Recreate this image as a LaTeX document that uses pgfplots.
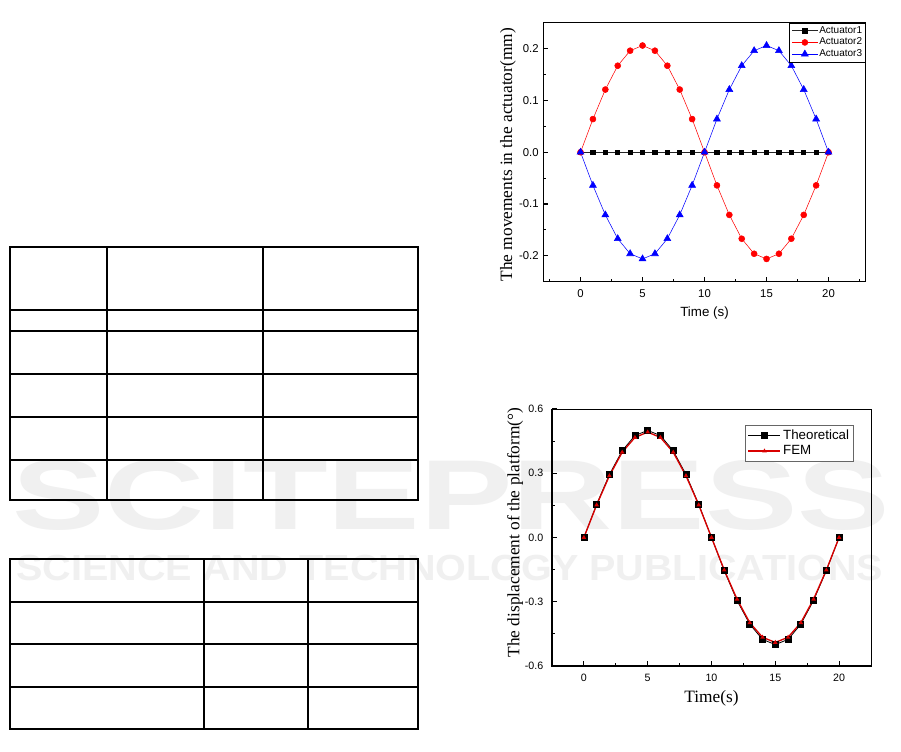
\documentclass[border=0pt]{standalone}
\usepackage{fontspec}
\setmainfont{Liberation Sans}
\newfontfamily\serif{Liberation Serif}
\usepackage{pgfplots}
\usepackage{pgfplotstable}
\pgfplotsset{compat=1.18}

\definecolor{oRed}{RGB}{255,0,0}
\definecolor{oBlue}{RGB}{0,0,255}
\definecolor{wm}{RGB}{240,240,240}

% actuator movements (mm)
\pgfplotstableread{
t   a1  a2      a3
0   0   0       0
1   0   0.064   -0.064
2   0   0.121   -0.121
3   0   0.167   -0.167
4   0   0.196   -0.196
5   0   0.206   -0.206
6   0   0.196   -0.196
7   0   0.167   -0.167
8   0   0.121   -0.121
9   0   0.064   -0.064
10  0   0       0
11  0   -0.064  0.064
12  0   -0.121  0.121
13  0   -0.167  0.167
14  0   -0.196  0.196
15  0   -0.206  0.206
16  0   -0.196  0.196
17  0   -0.167  0.167
18  0   -0.121  0.121
19  0   -0.064  0.064
20  0   0       0
}\actuators

% platform displacement (deg)
\pgfplotstableread{
t   theo    fem
0   0       0
1   0.155   0.152
2   0.294   0.288
3   0.405   0.398
4   0.476   0.467
5   0.500   0.492
6   0.476   0.467
7   0.405   0.398
8   0.294   0.288
9   0.155   0.152
10  0       0
11  -0.155  -0.152
12  -0.294  -0.288
13  -0.405  -0.398
14  -0.476  -0.466
15  -0.500  -0.490
16  -0.476  -0.466
17  -0.405  -0.398
18  -0.294  -0.288
19  -0.155  -0.152
20  0       0
}\platform

\begin{document}
\begin{tikzpicture}
\useasboundingbox (0,0) rectangle (675.75pt,564pt);
\fill[white] (0,0) rectangle (675.75pt,564pt);

\begin{scope}[yshift=564pt,x=0.75pt,y=-0.75pt]
  % watermark
  \node[anchor=north west,inner sep=0pt,text=wm] at (12,460)
    {\resizebox{658pt}{52pt}{\bfseries SCITEPRESS}};
  \node[anchor=north west,inner sep=0pt,text=wm] at (16,555)
    {\resizebox{650pt}{19pt}{\bfseries SCIENCE AND TECHNOLOGY PUBLICATIONS}};
  % table 1
  \draw[line width=1pt] (10,247) rectangle (418,500);
  \foreach \yy in {310,331,374,417,460} \draw[line width=1pt] (10,\yy) -- (418,\yy);
  \foreach \xx in {107,263} \draw[line width=1pt] (\xx,247) -- (\xx,500);
  % table 2
  \draw[line width=1pt] (10,559) rectangle (418,729);
  \foreach \yy in {602,644,687} \draw[line width=1pt] (10,\yy) -- (418,\yy);
  \foreach \xx in {204,308} \draw[line width=1pt] (\xx,559) -- (\xx,729);
\end{scope}

\pgfplotsset{
  originstyle/.style={
    scale only axis,
    tick align=inside, tick pos=left,
    major tick length=3.5pt, minor tick length=2pt,
    tick style={black,line width=0.8pt},
    axis line style={line width=0.5pt},
    /pgf/number format/assume math mode=true,
    yticklabel style={/pgf/number format/fixed,
      /pgf/number format/fixed zerofill,
      /pgf/number format/precision=1},
    xticklabel style={yshift=-2.5pt},
    legend cell align=left,
  }
}

\begin{axis}[originstyle, name=ax1,
  at={(407.5pt,352.7pt)}, anchor=south west,
  width=241.8pt, height=194.25pt,
  xmin=-3, xmax=23, ymin=-0.25, ymax=0.25,
  xtick={0,5,10,15,20}, ytick={-0.2,-0.1,0,0.1,0.2},
  minor xtick={-2.5,2.5,7.5,12.5,17.5,22.5},
  minor ytick={-0.15,-0.05,0.05,0.15},
  ticklabel style={font=\fontsize{8.5}{10}\selectfont},
  xlabel={Time (s)},
  xlabel style={font=\fontsize{10}{12}\selectfont, at={(axis description cs:0.5,-0.121)}, anchor=center},
  ylabel={\serif The movements in the actuator(mm)},
  ylabel style={font=\fontsize{13}{15}\selectfont, inner sep=0pt, at={(axis description cs:-0.1095,0.49)}, anchor=center},
  legend style={at={(1,1)}, anchor=north east, draw=black, line width=0.5pt,
    font=\fontsize{7.5}{8.5}\selectfont, inner sep=1.5pt, row sep=0pt,
    nodes={inner sep=1pt}},
  legend image code/.code={\draw[mark repeat=2,mark phase=2] plot coordinates {(0pt,0pt) (9.5pt,0pt) (19pt,0pt)};},
]
\addplot[black!85, line width=0.6pt, mark=square*, mark size=1.6pt, mark options={black}] table[x=t,y=a1] {\actuators};
\addplot[oRed, line width=0.4pt, mark=*, mark size=2.25pt] table[x=t,y=a2] {\actuators};
\addplot[oBlue, line width=0.4pt, mark=triangle*, mark size=3pt] table[x=t,y=a3] {\actuators};
\legend{Actuator1,Actuator2,Actuator3}
\end{axis}
\draw[line width=1.1pt] (ax1.north west) -- (ax1.south west) -- (ax1.south east);

\begin{axis}[originstyle, name=ax2,
  at={(414pt,64.5pt)}, anchor=south west,
  width=239.25pt, height=192.75pt,
  xmin=-2.5, xmax=22.5, ymin=-0.6, ymax=0.6,
  xtick={0,5,10,15,20}, ytick={-0.6,-0.3,0,0.3,0.6},
  minor xtick={2.5,7.5,12.5,17.5},
  minor ytick={-0.45,-0.15,0.15,0.45},
  ticklabel style={font=\fontsize{8}{10}\selectfont},
  yticklabel style={xshift=-3pt},
  xlabel={\serif Time(s)},
  xlabel style={font=\fontsize{13}{15}\selectfont, at={(axis description cs:0.5,-0.125)}, anchor=center},
  ylabel={\serif The displacement of the platform(°)},
  ylabel style={font=\fontsize{13}{15}\selectfont, inner sep=0pt, at={(axis description cs:-0.116,0.519)}, anchor=center},
  legend style={at={(0.947,0.938)}, anchor=north east, draw=black!60, line width=0.5pt,
    font=\fontsize{10}{11}\selectfont, inner sep=2pt, row sep=0pt,
    nodes={inner sep=1.5pt}},
  legend image code/.code={\draw[mark repeat=2,mark phase=2] plot coordinates {(0pt,0pt) (12pt,0pt) (24pt,0pt)};},
]
\addplot[black, line width=0.6pt, mark=square*, mark size=2.25pt] table[x=t,y=theo] {\platform};
\addplot[oRed!85!black, line width=1pt, mark=triangle*, mark size=1pt] table[x=t,y=fem] {\platform};
\legend{Theoretical,FEM}
\end{axis}
\draw[line width=1.1pt] (ax2.north west) -- (ax2.south west) -- (ax2.south east);
\end{tikzpicture}
\end{document}
